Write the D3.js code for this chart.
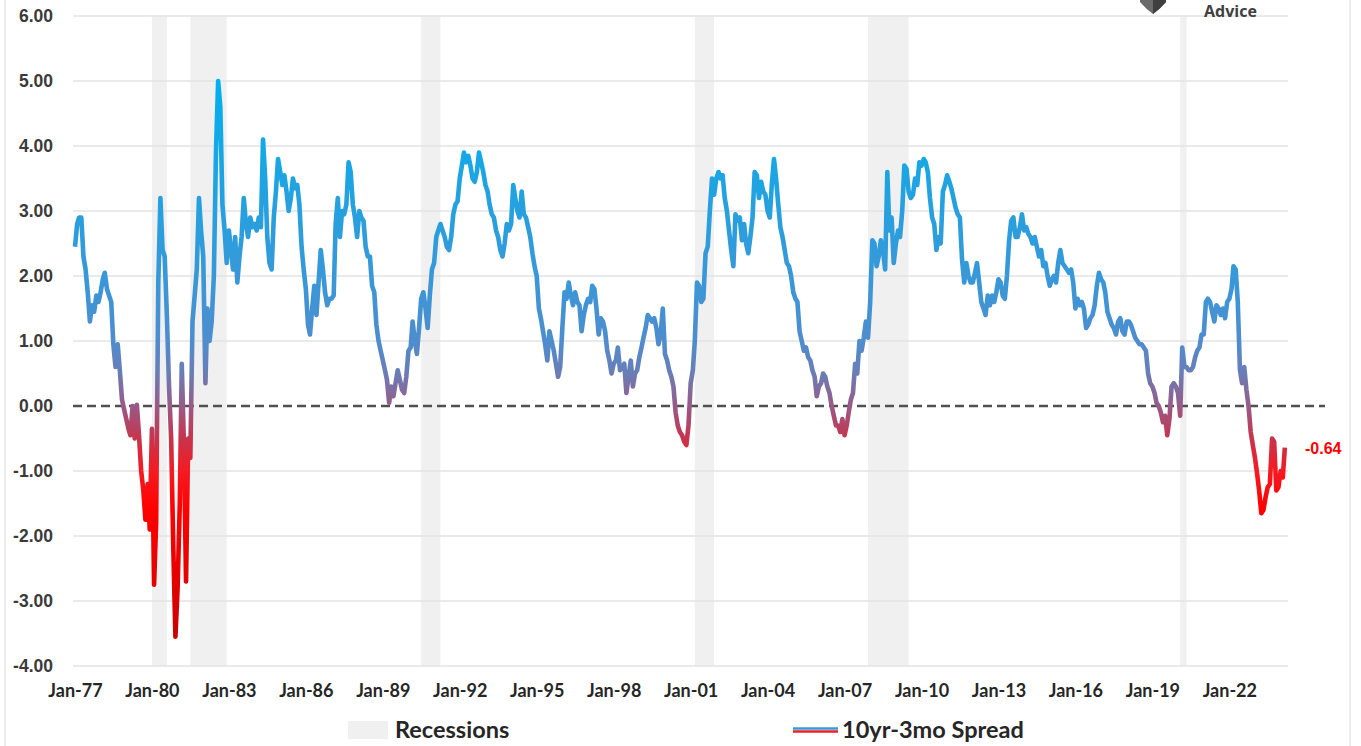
<!DOCTYPE html>
<html>
<head>
<meta charset="utf-8">
<script src="https://cdn.jsdelivr.net/npm/d3@7"></script>
<style>
  body { margin: 0; background: #fff; }
  svg { display: block; }
</style>
</head>
<body>
<svg id="chart" width="1361" height="746"></svg>
<script>
// 10yr-3mo spread, monthly, starts Jan 1977
const spread1977to1986 = [
  2.45, 2.8, 2.9, 2.9, 2.3, 2.1, 1.75, 1.3, 1.55, 1.45, 1.7, 1.6,
  1.75, 1.95, 2.05, 1.8, 1.7, 1.6, 0.95, 0.6, 0.95, 0.55, 0.1, -0.05,
  -0.2, -0.35, -0.45, 0.0, -0.5, 0.02, -0.45, -1.0, -1.3, -1.75, -1.2, -1.9,
  -0.35, -2.75, -1.8, 1.9, 3.2, 2.4, 2.3, 1.4, 0.3, -0.5, -2.2, -3.55,
  -2.8, -1.5, 0.65, -0.6, -2.7, -0.5, -0.8, 1.3, 1.7, 2.1, 3.2, 2.7,
  2.3, 0.35, 1.5, 1.0, 1.3, 2.0, 3.9, 5.0, 4.6, 3.1, 2.7, 2.2,
  2.7, 2.4, 2.1, 2.6, 1.9, 2.3, 2.6, 3.2, 2.8, 2.6, 2.9, 2.75,
  2.8, 2.7, 2.9, 2.75, 4.1, 3.5, 2.6, 2.2, 2.1, 2.9, 3.3, 3.8,
  3.6, 3.4, 3.55, 3.3, 3.0, 3.2, 3.5, 3.35, 3.4, 3.1, 2.45, 2.1,
  1.8, 1.25, 1.1, 1.5, 1.85, 1.4, 1.9, 2.4, 2.1, 1.75, 1.55, 1.65
];
const spread1987to1996 = [
  1.65, 1.7, 2.8, 3.2, 2.6, 3.0, 2.95, 3.1, 3.75, 3.6, 3.1, 2.9,
  2.6, 3.0, 2.9, 2.85, 2.45, 2.3, 2.3, 1.85, 1.75, 1.25, 1.0, 0.85,
  0.7, 0.55, 0.4, 0.05, 0.3, 0.15, 0.35, 0.55, 0.4, 0.25, 0.2, 0.45,
  0.85, 0.9, 1.3, 1.0, 0.8, 1.2, 1.65, 1.75, 1.5, 1.2, 1.7, 2.1,
  2.2, 2.6, 2.7, 2.8, 2.7, 2.6, 2.45, 2.4, 2.6, 2.95, 3.1, 3.15,
  3.5, 3.7, 3.9, 3.75, 3.85, 3.7, 3.5, 3.45, 3.6, 3.9, 3.75, 3.6,
  3.4, 3.3, 3.1, 2.95, 2.9, 2.7, 2.6, 2.4, 2.3, 2.5, 2.8, 2.7,
  2.8, 3.4, 3.2, 3.0, 2.9, 3.3, 2.95, 2.9, 2.75, 2.6, 2.35, 2.15,
  2.0, 1.5, 1.35, 1.15, 0.95, 0.7, 1.15, 1.0, 0.85, 0.65, 0.45, 0.6,
  1.2, 1.75, 1.65, 1.9, 1.7, 1.55, 1.75, 1.6, 1.55, 1.15, 1.4, 1.55
];
const spread1997to2006 = [
  1.65, 1.6, 1.85, 1.8, 1.5, 1.1, 1.35, 1.3, 1.15, 0.85, 0.7, 0.5,
  0.65, 0.7, 0.9, 0.55, 0.6, 0.65, 0.2, 0.45, 0.7, 0.3, 0.5, 0.55,
  0.75, 0.9, 1.05, 1.2, 1.4, 1.35, 1.3, 1.35, 1.2, 0.95, 1.1, 1.5,
  0.8, 0.7, 0.55, 0.45, 0.3, -0.1, -0.3, -0.4, -0.45, -0.55, -0.6, -0.3,
  0.35, 0.55, 1.0, 1.9, 1.85, 1.6, 1.65, 2.35, 2.45, 3.0, 3.5, 3.25,
  3.5, 3.6, 3.5, 3.55, 3.2, 3.0, 2.7, 2.4, 2.15, 2.95, 2.85, 2.9,
  2.55, 2.8, 2.5, 2.35, 2.6, 2.9, 3.6, 3.55, 3.2, 3.45, 3.3, 3.25,
  3.0, 2.9, 3.4, 3.8, 3.5, 3.1, 2.75, 2.6, 2.4, 2.2, 2.15, 2.0,
  1.75, 1.65, 1.6, 1.15, 1.0, 0.85, 0.9, 0.75, 0.7, 0.55, 0.45, 0.15,
  0.3, 0.35, 0.5, 0.45, 0.3, 0.2, 0.0, -0.15, -0.3, -0.3, -0.4, -0.2
];
const spread2007to2016 = [
  -0.45, -0.3, -0.1, 0.1, 0.2, 0.65, 0.5, 1.0, 0.85, 1.05, 1.3, 1.05,
  1.6, 2.55, 2.5, 2.15, 2.3, 2.55, 2.4, 2.1, 3.6, 2.7, 2.9, 2.2,
  2.5, 2.7, 2.6, 3.0, 3.7, 3.65, 3.3, 3.2, 3.25, 3.5, 3.4, 3.75,
  3.7, 3.8, 3.75, 3.6, 3.2, 2.9, 2.8, 2.4, 2.6, 2.5, 3.3, 3.4,
  3.55, 3.45, 3.35, 3.2, 3.05, 2.95, 2.9, 2.25, 1.9, 2.2, 2.0, 1.9,
  1.9, 2.05, 2.2, 1.9, 1.6, 1.5, 1.4, 1.7, 1.55, 1.7, 1.6, 1.75,
  1.95, 1.9, 1.7, 1.65, 2.0, 2.55, 2.85, 2.9, 2.6, 2.6, 2.75, 2.95,
  2.7, 2.75, 2.65, 2.6, 2.5, 2.6, 2.45, 2.3, 2.4, 2.15, 2.2, 2.0,
  1.85, 1.95, 2.0, 1.9, 2.2, 2.4, 2.2, 2.15, 2.1, 2.05, 2.1, 1.9,
  1.5, 1.65, 1.55, 1.6, 1.5, 1.2, 1.25, 1.35, 1.4, 1.55, 1.85, 2.05
];
const spread2017to2024 = [
  1.95, 1.9, 1.75, 1.45, 1.35, 1.25, 1.2, 1.1, 1.3, 1.35, 1.15, 1.1,
  1.3, 1.3, 1.25, 1.15, 1.05, 1.0, 0.95, 0.95, 0.9, 0.85, 0.5, 0.35,
  0.3, 0.2, 0.05, 0.0, -0.1, -0.25, -0.15, -0.45, -0.2, 0.3, 0.35, 0.3,
  0.2, -0.15, 0.9, 0.6, 0.6, 0.55, 0.55, 0.6, 0.75, 0.85, 0.9, 1.1,
  1.1, 1.6, 1.65, 1.6, 1.45, 1.3, 1.55, 1.5, 1.4, 1.5, 1.35, 1.6,
  1.65, 1.8, 2.15, 2.1, 1.6, 0.55, 0.35, 0.6, 0.25, 0.0, -0.4, -0.6,
  -0.8, -1.05, -1.3, -1.65, -1.6, -1.4, -1.25, -1.2, -0.5, -0.55, -1.3, -1.25,
  -1.0, -1.1, -0.64
];

// NBER recessions, first and last month
const recessions = [
  ['1980-01', '1980-07'],
  ['1981-07', '1982-11'],
  ['1990-07', '1991-03'],
  ['2001-03', '2001-11'],
  ['2007-12', '2009-06'],
  ['2020-02', '2020-04']
];

const yTicks = [-4, -3, -2, -1, 0, 1, 2, 3, 4, 5, 6];
const xTickYears = [1977, 1980, 1983, 1986, 1989, 1992, 1995, 1998, 2001, 2004, 2007, 2010, 2013, 2016, 2019, 2022];

const parseMonth = d3.timeParse('%Y-%m');
// plain hyphen for negatives, like the original
const fmt2 = d3.formatLocale({ decimal: '.', thousands: ',', grouping: [3], currency: ['$', ''], minus: '-' }).format('.2f');

const allValues = [].concat(spread1977to1986, spread1987to1996, spread1997to2006, spread2007to2016, spread2017to2024);
const data = allValues.map((v, i) => ({ date: new Date(1977, i, 1), value: v }));
const lastPoint = data[data.length - 1];

const svg = d3.select('#chart');

const x = d3.scaleTime()
  .domain([new Date(1977, 0, 1), new Date(2024, 3, 15)])
  .range([75, 1288]);
const y = d3.scaleLinear()
  .domain([-4, 6])
  .range([666, 16]);

// chart area border
svg.append('rect')
  .attr('x', 5).attr('y', -5)
  .attr('width', 1345).attr('height', 760)
  .attr('fill', 'none')
  .attr('stroke', '#d9d9d9')
  .attr('stroke-width', 1);

// recession bars
svg.append('g').selectAll('rect')
  .data(recessions)
  .join('rect')
    .attr('x', d => x(parseMonth(d[0])))
    .attr('width', d => x(d3.timeMonth.offset(parseMonth(d[1]), 1)) - x(parseMonth(d[0])))
    .attr('y', y(6))
    .attr('height', y(-4) - y(6))
    .attr('fill', '#f0f0f0');

// gridlines
svg.append('g').selectAll('line')
  .data(yTicks.filter(t => t !== 0))
  .join('line')
    .attr('x1', 73).attr('x2', 1288)
    .attr('y1', d => y(d)).attr('y2', d => y(d))
    .attr('stroke', '#e3e3e3')
    .attr('stroke-width', 1.3);

// y axis labels
const yAxis = svg.append('g')
  .attr('transform', 'translate(53,0)')
  .call(d3.axisLeft(y).tickValues(yTicks).tickFormat(fmt2).tickSize(0).tickPadding(0));
yAxis.select('.domain').remove();
yAxis.selectAll('text')
  .attr('font-family', '"Liberation Sans", Arial, sans-serif')
  .attr('font-weight', 'bold')
  .attr('font-size', 17.5)
  .attr('fill', '#3a3a3a');

// x axis labels
const xAxis = svg.append('g')
  .attr('transform', 'translate(0,680)')
  .call(d3.axisBottom(x)
    .tickValues(xTickYears.map(yr => new Date(yr, 0, 1)))
    .tickFormat(d3.timeFormat('%b-%y'))
    .tickSize(0).tickPadding(4));
xAxis.select('.domain').remove();
xAxis.selectAll('text')
  .attr('font-family', 'Lato, "Open Sans", sans-serif')
  .attr('font-weight', 'bold')
  .attr('font-size', 18)
  .attr('fill', '#262626');

// zero line
svg.append('line')
  .attr('x1', 73).attr('x2', 1325)
  .attr('y1', y(0)).attr('y2', y(0))
  .attr('stroke', '#505050')
  .attr('stroke-width', 2.6)
  .attr('stroke-dasharray', '9,5');

// gradient by value: blue above zero, red below
const grad = svg.append('defs').append('linearGradient')
  .attr('id', 'spreadGrad')
  .attr('gradientUnits', 'userSpaceOnUse')
  .attr('x1', 0).attr('x2', 0)
  .attr('y1', y(5)).attr('y2', y(-3.6));
const stops = [
  [5.0, '#00b0f0'],
  [3.5, '#1ea4e2'],
  [2.0, '#3898d8'],
  [1.0, '#4e8dce'],
  [0.5, '#6a7db6'],
  [0.0, '#985a88'],
  [-0.5, '#c8344c'],
  [-1.0, '#f51a22'],
  [-1.6, '#ff0000'],
  [-2.6, '#e60000'],
  [-3.6, '#c80000']
];
grad.selectAll('stop')
  .data(stops)
  .join('stop')
    .attr('offset', d => (y(d[0]) - y(5)) / (y(-3.6) - y(5)))
    .attr('stop-color', d => d[1]);

const line = d3.line()
  .x(d => x(d.date))
  .y(d => y(d.value));

svg.append('path')
  .datum(data)
  .attr('d', line)
  .attr('fill', 'none')
  .attr('stroke', 'url(#spreadGrad)')
  .attr('stroke-width', 4.6)
  .attr('stroke-linejoin', 'round');

// last value label
svg.append('text')
  .attr('x', 1305)
  .attr('y', y(lastPoint.value) + 6)
  .attr('font-family', '"Liberation Sans", Arial, sans-serif')
  .attr('font-weight', 'bold')
  .attr('font-size', 16)
  .attr('fill', '#ff0000')
  .text(fmt2(lastPoint.value));

// logo, only its lower part shows
const logo = svg.append('g');
logo.append('path')
  .attr('d', 'M1140,-12 L1166,-12 L1166,2 Q1160,9 1153,14 Q1146,9 1140,2 Z')
  .attr('fill', '#6b6b6b');
logo.append('path')
  .attr('d', 'M1153,-12 L1166,-12 L1166,2 Q1160,9 1153,14 Z')
  .attr('fill', '#3f3f3f');
logo.append('text')
  .attr('x', 1204)
  .attr('y', 17)
  .attr('font-family', '"Open Sans", Roboto, sans-serif')
  .attr('font-weight', 'bold')
  .attr('font-size', 16)
  .attr('fill', '#404040')
  .text('Advice');

// legend
const legend = svg.append('g')
  .attr('font-family', 'Lato, "Open Sans", sans-serif')
  .attr('font-weight', 'bold')
  .attr('font-size', 23.5)
  .attr('fill', '#262626');
legend.append('rect')
  .attr('x', 348).attr('y', 721)
  .attr('width', 40).attr('height', 18)
  .attr('fill', '#f0f0f0');
legend.append('text')
  .attr('x', 395).attr('y', 738)
  .text('Recessions');
legend.append('line')
  .attr('x1', 793).attr('x2', 838)
  .attr('y1', 728.5).attr('y2', 728.5)
  .attr('stroke', '#3a9ad9').attr('stroke-width', 2.5);
legend.append('line')
  .attr('x1', 793).attr('x2', 838)
  .attr('y1', 731.5).attr('y2', 731.5)
  .attr('stroke', '#e8202a').attr('stroke-width', 2.5);
legend.append('text')
  .attr('x', 842).attr('y', 738)
  .text('10yr-3mo Spread');
</script>
</body>
</html>
